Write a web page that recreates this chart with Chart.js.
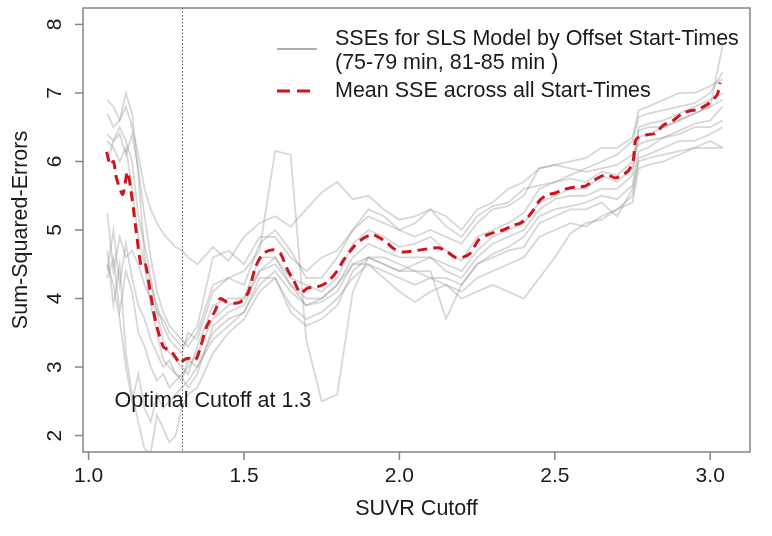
<!DOCTYPE html>
<html>
<head>
<meta charset="utf-8">
<script src="https://cdn.jsdelivr.net/npm/chart.js@4.4.1/dist/chart.umd.min.js"></script>
<style>
  html, body { margin: 0; padding: 0; background: #fff; }
  #wrap { width: 772px; height: 536px; }
</style>
</head>
<body>
<div id="wrap"><canvas id="sse" width="772" height="536"></canvas></div>
<script>
// SUVR cutoffs shared by the per-start-time curves
const cutoffGrid = [1.06,1.08,1.10,1.12,1.14,1.16,1.18,1.20,1.22,1.24,1.26,1.28,1.30,1.32,1.35,1.40,1.45,1.50,1.55,1.60,
  1.65,1.70,1.75,1.80,1.85,1.90,1.95,2.00,2.05,2.10,2.15,2.20,2.25,2.30,2.35,2.40,2.45,2.50,2.55,2.60,
  2.65,2.70,2.75,2.77,2.80,2.85,2.90,2.95,3.00,3.04];

// SSE curves, one per offset start time
const sse75 = [6.9,6.8,6.6,6.8,6.5,6.1,5.6,5.3,5.1,4.95,4.85,4.75,4.7,4.6,4.5,4.75,4.55,4.9,5.1,5.2,
  5.05,5.3,5.55,5.7,5.45,5.5,5.3,5.15,5.2,5.3,5.05,4.9,5.2,5.35,5.4,5.6,5.65,5.7,5.75,5.7,
  5.85,5.8,6.0,6.5,6.55,6.6,6.7,6.8,6.9,7.0];
const sse76 = [6.7,6.5,6.6,7.0,6.7,5.8,4.6,4.2,3.9,3.6,3.4,3.3,3.2,3.5,3.4,4.1,4.3,4.4,4.7,6.15,
  6.1,3.4,2.5,2.6,4.1,4.6,4.5,4.4,4.5,4.6,4.4,4.3,4.6,4.8,4.9,5.0,5.3,5.45,5.5,5.5,
  5.6,5.6,5.8,6.45,6.5,6.5,6.6,6.7,6.8,7.7];
const sse77 = [6.4,6.3,6.5,6.3,6.0,5.2,4.8,4.3,3.8,3.4,3.2,3.1,3.0,2.9,3.3,3.9,4.0,4.0,4.6,4.6,
  4.3,4.2,4.1,4.3,4.8,5.0,4.9,4.75,4.8,4.9,4.7,4.55,4.9,5.0,5.1,5.25,5.6,5.7,5.8,5.9,
  6.0,6.1,6.3,6.65,6.7,6.75,6.8,6.85,7.0,7.3];
const sse78 = [6.3,6.2,6.0,6.2,5.6,4.9,4.5,3.9,3.5,3.1,3.0,2.9,2.85,2.7,2.9,3.6,3.8,3.9,4.4,4.6,
  4.2,3.9,4.0,4.2,4.6,4.8,4.7,4.6,4.6,4.6,4.5,4.4,4.7,4.9,5.0,5.1,5.4,5.5,5.6,5.6,
  5.8,5.7,5.9,6.35,6.4,6.5,6.6,6.7,6.8,6.9];
const sse79 = [5.25,4.4,4.9,4.6,4.7,4.5,4.2,4.0,3.8,3.7,3.5,3.4,3.3,3.4,3.6,4.6,4.7,4.5,4.9,4.9,
  4.6,4.4,4.6,4.7,5.0,5.3,5.2,5.0,5.1,5.3,5.2,5.0,5.3,5.4,5.6,5.7,5.9,5.95,5.9,5.85,
  5.9,5.95,6.1,6.25,6.3,6.35,6.4,6.5,6.5,6.6];
const sse81 = [4.7,3.9,4.5,3.2,2.6,2.2,1.8,1.75,2.3,2.1,1.9,2.0,2.4,2.6,2.7,3.2,3.5,3.7,4.1,4.3,
  3.9,3.7,3.8,4.0,4.3,4.5,4.4,4.3,4.2,4.3,4.2,4.1,4.3,4.4,4.5,4.6,4.9,5.0,5.1,5.05,
  5.2,5.3,5.4,5.9,5.95,6.0,6.1,6.2,6.3,6.2];
const sse82 = [4.5,4.2,3.7,3.0,2.5,2.9,2.4,2.2,2.6,2.4,2.5,2.6,2.7,2.8,3.0,3.4,3.6,3.8,4.2,4.4,
  4.1,3.9,3.95,4.1,4.5,4.6,4.6,4.5,4.4,4.4,3.7,4.2,4.5,4.6,4.7,4.75,5.1,5.2,5.3,5.3,
  5.4,5.2,5.6,6.05,6.1,6.2,6.3,6.3,6.4,6.5];
const sse83 = [4.3,4.6,3.8,4.4,4.1,3.5,3.3,3.0,2.8,2.9,2.7,2.8,2.9,3.0,3.2,3.7,3.9,4.0,4.4,4.5,
  4.2,4.0,4.0,4.2,4.5,4.5,4.3,4.1,3.95,4.1,4.2,4.0,4.1,4.2,4.1,4.0,4.3,4.6,4.95,5.1,
  5.15,5.3,5.5,6.0,6.05,6.1,6.15,6.2,6.2,6.2];
const sse84 = [6.0,6.3,6.4,6.1,6.4,5.9,5.2,4.6,4.1,3.8,3.6,3.5,3.4,3.3,3.5,4.2,4.3,4.2,4.8,5.0,
  4.7,4.3,4.3,4.6,5.0,5.2,5.1,5.0,4.9,5.0,4.9,4.8,5.1,5.3,5.35,5.5,5.9,5.95,6.0,6.05,
  6.2,6.2,6.35,6.75,6.8,6.9,7.0,7.0,7.1,7.2];
const sse85 = [4.4,5.0,4.2,4.8,4.3,3.9,3.7,3.4,3.2,3.0,3.1,2.9,2.8,3.1,3.0,3.5,3.7,3.8,4.3,4.3,
  3.8,3.6,3.7,3.9,4.4,4.6,4.5,4.4,4.4,4.3,4.3,4.2,4.5,4.65,4.75,4.9,5.2,5.3,5.35,5.4,
  5.5,5.45,5.65,6.15,6.2,6.35,6.45,6.55,6.6,6.8];
const startTimeCurves = [sse75, sse76, sse77, sse78, sse79, sse81, sse82, sse83, sse84, sse85];

// mean SSE across all start times
const meanX = [1.058,1.070,1.080,1.090,1.110,1.125,1.140,1.154,1.170,1.183,1.199,1.215,1.241,1.264,1.280,
  1.296,1.305,1.322,1.344,1.360,1.379,1.408,1.424,1.444,1.473,1.489,1.514,1.537,1.563,1.595,
  1.617,1.640,1.659,1.682,1.704,1.736,1.768,1.801,1.820,1.852,1.884,1.913,1.939,1.961,1.981,
  2.013,2.068,2.125,2.154,2.180,2.203,2.228,2.254,2.283,2.309,2.334,2.367,2.389,2.412,2.431,
  2.453,2.476,2.502,2.527,2.566,2.598,2.624,2.653,2.672,2.695,2.711,2.736,2.752,2.759,2.768,
  2.797,2.823,2.849,2.878,2.910,2.936,2.961,2.990,3.006,3.023,3.032];
const meanSSE = [6.14,5.95,6.00,5.75,5.52,5.85,5.45,4.95,4.46,4.49,4.08,3.68,3.29,3.24,3.14,
  3.05,3.10,3.13,3.10,3.29,3.58,3.83,4.00,3.95,3.93,3.95,4.09,4.46,4.66,4.71,
  4.66,4.42,4.27,4.08,4.15,4.17,4.24,4.41,4.56,4.75,4.88,4.93,4.88,4.81,4.73,
  4.68,4.71,4.74,4.68,4.60,4.60,4.66,4.85,4.93,4.97,5.00,5.07,5.10,5.18,5.29,
  5.44,5.51,5.54,5.59,5.63,5.64,5.72,5.79,5.80,5.76,5.79,5.86,6.01,6.30,6.35,
  6.39,6.41,6.53,6.59,6.70,6.74,6.76,6.83,6.89,6.98,7.15];

const xTicks = [1.0, 1.5, 2.0, 2.5, 3.0];
const yTicks = [2, 3, 4, 5, 6, 7, 8];
const optimalCutoff = 1.3;

const FONT = '"Liberation Sans", Arial, Helvetica, sans-serif';
const GREY = 'rgba(150, 150, 150, 0.38)';
const RED = '#d0141e';

const datasets = startTimeCurves.map((ys, i) => ({
  label: 'grey' + i,
  data: cutoffGrid.map((x, j) => ({ x: x, y: ys[j] })),
  borderColor: GREY,
  borderWidth: 1.8,
  pointRadius: 0,
  tension: 0,
  order: 2
}));
datasets.push({
  label: 'mean',
  data: meanX.map((x, j) => ({ x: x, y: meanSSE[j] })),
  borderColor: RED,
  borderWidth: 3,
  borderDash: [10, 6],
  pointRadius: 0,
  tension: 0.25,
  order: 1
});

// base-graphics style frame: box, outward ticks, rotated y labels, legend, annotation
const rFrame = {
  id: 'rFrame',
  afterDatasetsDraw(chart) {
    const { ctx, chartArea: a, scales: { x, y } } = chart;
    ctx.save();

    // dotted line at the optimal cutoff
    const cx = Math.round(x.getPixelForValue(optimalCutoff)) + 0.5;
    ctx.strokeStyle = '#555';
    ctx.lineWidth = 1;
    ctx.setLineDash([1.5, 2]);
    ctx.beginPath();
    ctx.moveTo(cx, a.top);
    ctx.lineTo(cx, a.bottom);
    ctx.stroke();
    ctx.setLineDash([]);

    // plot box
    ctx.strokeStyle = '#858585';
    ctx.lineWidth = 1.5;
    ctx.strokeRect(a.left, a.top, a.right - a.left, a.bottom - a.top);

    ctx.fillStyle = '#1a1a1a';
    ctx.font = '21px ' + FONT;

    // x axis
    ctx.textAlign = 'center';
    ctx.textBaseline = 'middle';
    xTicks.forEach(v => {
      const px = x.getPixelForValue(v);
      ctx.beginPath();
      ctx.moveTo(px, a.bottom);
      ctx.lineTo(px, a.bottom + 8);
      ctx.stroke();
      ctx.fillText(v.toFixed(1), px, a.bottom + 24);
    });

    // y axis, labels read bottom-to-top
    yTicks.forEach(v => {
      const py = y.getPixelForValue(v);
      ctx.beginPath();
      ctx.moveTo(a.left, py);
      ctx.lineTo(a.left - 8, py);
      ctx.stroke();
      ctx.save();
      ctx.translate(a.left - 28, py);
      ctx.rotate(-Math.PI / 2);
      ctx.fillText(String(v), 0, 0);
      ctx.restore();
    });

    // axis titles
    ctx.font = '21.5px ' + FONT;
    ctx.fillText('SUVR Cutoff', (a.left + a.right) / 2, a.bottom + 57);
    ctx.save();
    ctx.translate(21, (a.top + a.bottom) / 2);
    ctx.rotate(-Math.PI / 2);
    ctx.fillText('Sum-Squared-Errors', 0, 0);
    ctx.restore();

    // annotation
    ctx.fillText('Optimal Cutoff at 1.3', x.getPixelForValue(1.4), y.getPixelForValue(2.5));

    // legend
    ctx.textAlign = 'left';
    ctx.lineWidth = 2;
    ctx.strokeStyle = 'rgba(150,150,150,0.75)';
    ctx.beginPath();
    ctx.moveTo(277, 49);
    ctx.lineTo(317, 49);
    ctx.stroke();
    ctx.strokeStyle = RED;
    ctx.lineWidth = 3;
    ctx.setLineDash([13, 7]);
    ctx.beginPath();
    ctx.moveTo(277, 91);
    ctx.lineTo(317, 91);
    ctx.stroke();
    ctx.setLineDash([]);
    ctx.fillStyle = '#1a1a1a';
    ctx.fillText('SSEs for SLS Model by Offset Start-Times', 335, 39);
    ctx.fillText('(75-79 min, 81-85 min )', 335, 63);
    ctx.fillText('Mean SSE across all Start-Times', 335, 91);

    ctx.restore();
  }
};

new Chart(document.getElementById('sse'), {
  type: 'line',
  data: { datasets: datasets },
  options: {
    responsive: false,
    animation: false,
    events: [],
    layout: { padding: { left: 83, top: 8, right: 22, bottom: 84 } },
    plugins: { legend: { display: false }, tooltip: { enabled: false } },
    scales: {
      x: { type: 'linear', min: 0.982, max: 3.128, display: false },
      y: { type: 'linear', min: 1.76, max: 8.24, display: false }
    }
  },
  plugins: [rFrame]
});
</script>
</body>
</html>
